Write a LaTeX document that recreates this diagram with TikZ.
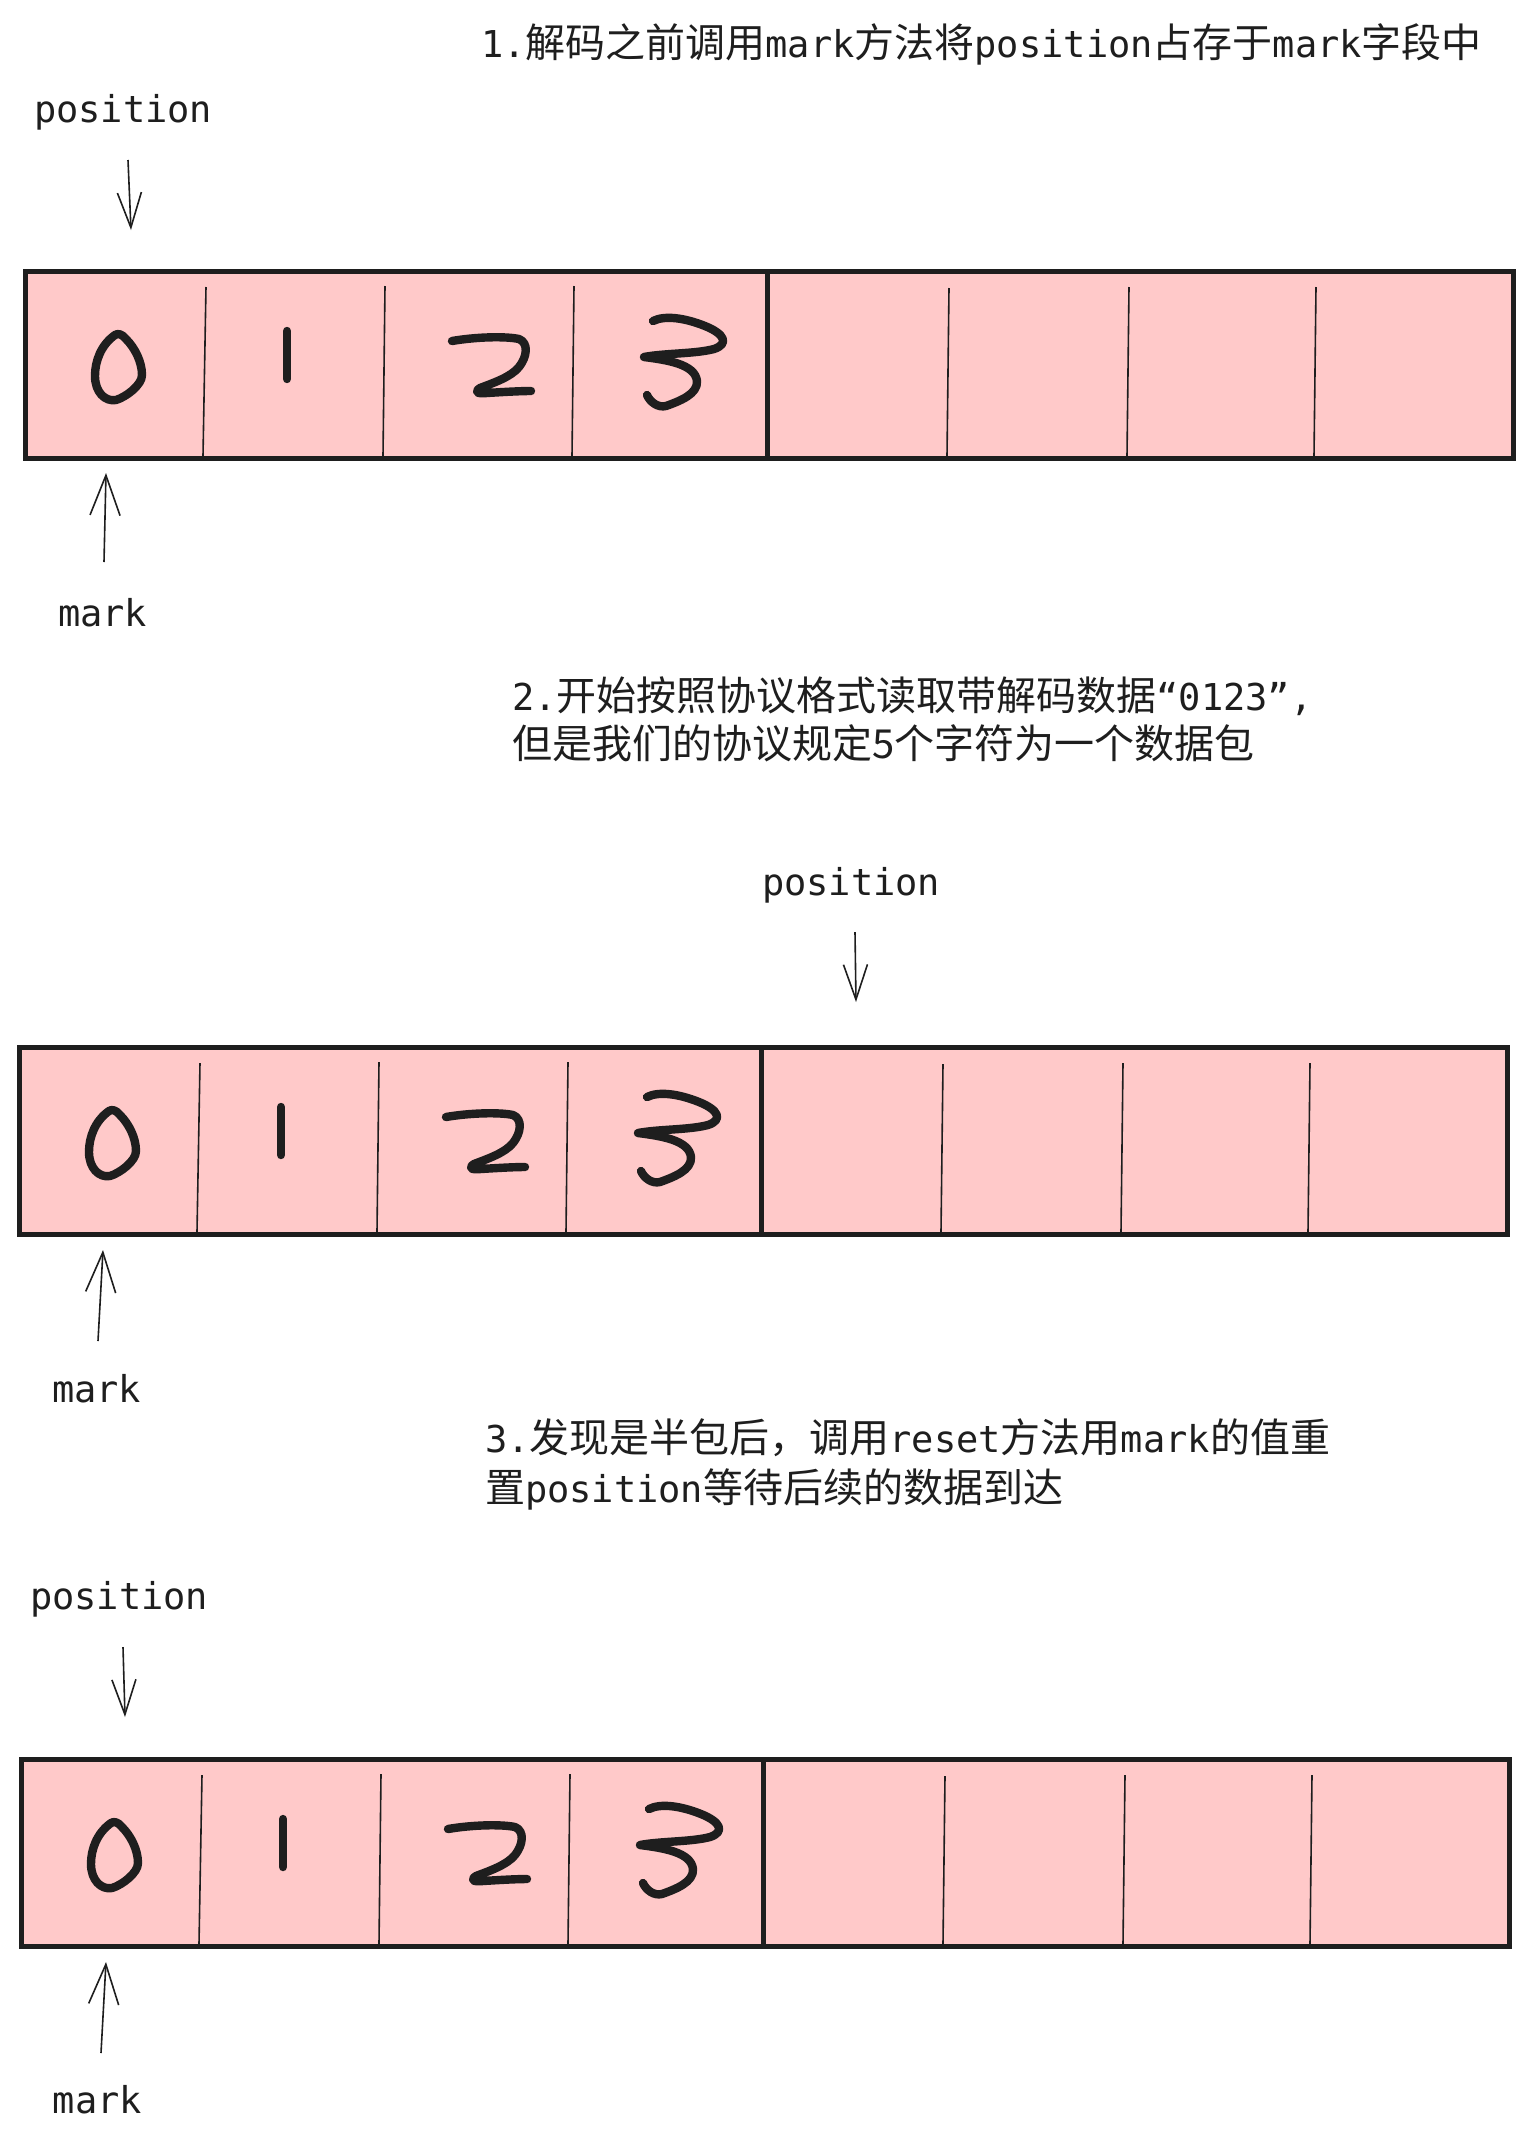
\documentclass[tikz,border=0pt]{standalone}
\usepackage{fontspec}
\newfontfamily\cjfont{Noto Sans CJK SC}
\newfontfamily\ltfont{DejaVu Sans Mono}
\usetikzlibrary{arrows.meta}
\definecolor{ink}{HTML}{1E1E1E}
\definecolor{pinkfill}{HTML}{FFC9C9}
\newcommand\txtC[1]{{\cjfont\fontsize{20}{24}\selectfont #1}}
\newcommand\txtL[1]{{\ltfont\fontsize{18.5}{24}\selectfont #1}}
\begin{document}
\begin{tikzpicture}[x=0.5pt,y=-0.5pt,
  every node/.style={text=ink, inner sep=0pt, outer sep=0pt},
  lbl/.style={anchor=base west},
  halfbox/.style={draw=ink, fill=pinkfill, line width=2.5pt, minimum height=93.5pt, inner sep=0pt, anchor=north west},
  cellline/.style={draw=ink, line width=0.8pt},
  digit/.style={draw=ink, line width=4.2pt, line cap=round, line join=round},
  downarr/.style={draw=ink, line width=0.8pt, -{Straight Barb[length=17.5pt,width=12pt]}},
  uparr/.style={draw=ink, line width=0.8pt, -{Straight Barb[length=20pt,width=15pt]}}
]
\useasboundingbox (0,0) rectangle (1532,2148);
\fill[white] (0,0) rectangle (1532,2148);

\newcommand\bufferdraw[1]{%
  \node[halfbox, minimum width=371pt] (#1L) at (0,0) {};
  \node[halfbox, minimum width=373pt] (#1R) at (742,0) {};
  \draw[cellline] (181,16) -- (178,185);
  \draw[cellline] (360,15) -- (358,185);
  \draw[cellline] (549,15) -- (547,185);
  \draw[cellline] (924,17) -- (922,185);
  \draw[cellline] (1104,16) -- (1102,185);
  \draw[cellline] (1291,16) -- (1289,185);
  % digit 0
  \draw[digit] (90,64) .. controls (76,74) and (70,90) .. (70,105)
     .. controls (70,121) and (80,131) .. (91,129)
     .. controls (101,126) and (117,114) .. (117,104)
     .. controls (117,91) and (110,77) .. (101,68)
     .. controls (97,63) and (93,62) .. (90,64) -- cycle;
  % digit 1
  \draw[digit] (262,60) -- (262,108);
  % digit 2
  \draw[digit] (427,70) .. controls (450,66) and (480,65) .. (494,68)
     .. controls (504,72) and (502,86) .. (494,96)
     .. controls (486,106) and (468,112) .. (455,117)
     .. controls (449,121) and (452,123) .. (462,122)
     .. controls (478,121) and (495,120) .. (506,120);
  % digit 3
  \draw[digit] (628,50) .. controls (640,44) and (660,47) .. (680,55)
     .. controls (700,63) and (704,73) .. (689,78)
     .. controls (670,83) and (640,82) .. (619,86)
     .. controls (642,89) and (670,93) .. (672,110)
     .. controls (673,123) and (655,130) .. (641,135)
     .. controls (633,137) and (625,131) .. (622,124);
}

% ================= Panel 1 =================
\node[lbl] (t1) at (481,57) {\txtL{1.}\txtC{解码之前调用}\txtL{mark}\txtC{方法将}\txtL{position}\txtC{占存于}\txtL{mark}\txtC{字段中}};
\node[lbl] (pos1) at (34,122) {\txtL{position}};
\coordinate (p1a) at (128,160);
\coordinate (p1b) at (131,230);
\draw[downarr] (p1a) -- (p1b);
\begin{scope}[shift={(25,271)}]
  \bufferdraw{b1}
\end{scope}
\coordinate (m1a) at (104,562);
\coordinate (m1b) at (106,473);
\draw[uparr] (m1a) -- (m1b);
\node[lbl] (mark1) at (58,626) {\txtL{mark}};

% ================= Panel 2 =================
\node[lbl] (t2a) at (512,710) {\txtL{2.}\txtC{开始按照协议格式读取带解码数据}\txtL{“0123”,}};
\node[lbl] (t2b) at (512,758) {\txtC{但是我们的协议规定5个字符为一个数据包}};
\node[lbl] (pos2) at (762,895) {\txtL{position}};
\coordinate (p2a) at (855,932);
\coordinate (p2b) at (856,1002);
\draw[downarr] (p2a) -- (p2b);
\begin{scope}[shift={(19,1047)}]
  \bufferdraw{b2}
\end{scope}
\coordinate (m2a) at (98,1341);
\coordinate (m2b) at (103,1250);
\draw[uparr] (m2a) -- (m2b);
\node[lbl] (mark2) at (52,1402) {\txtL{mark}};

% ================= Panel 3 =================
\node[lbl] (t3a) at (485,1452) {\txtL{3.}\txtC{发现是半包后，调用}\txtL{reset}\txtC{方法用}\txtL{mark}\txtC{的值重}};
\node[lbl] (t3b) at (485,1502) {\txtC{置}\txtL{position}\txtC{等待后续的数据到达}};
\node[lbl] (pos3) at (30,1609) {\txtL{position}};
\coordinate (p3a) at (123,1647);
\coordinate (p3b) at (125,1717);
\draw[downarr] (p3a) -- (p3b);
\begin{scope}[shift={(21,1759)}]
  \bufferdraw{b3}
\end{scope}
\coordinate (m3a) at (101,2053);
\coordinate (m3b) at (106,1962);
\draw[uparr] (m3a) -- (m3b);
\node[lbl] (mark3) at (53,2113) {\txtL{mark}};
\end{tikzpicture}
\end{document}
